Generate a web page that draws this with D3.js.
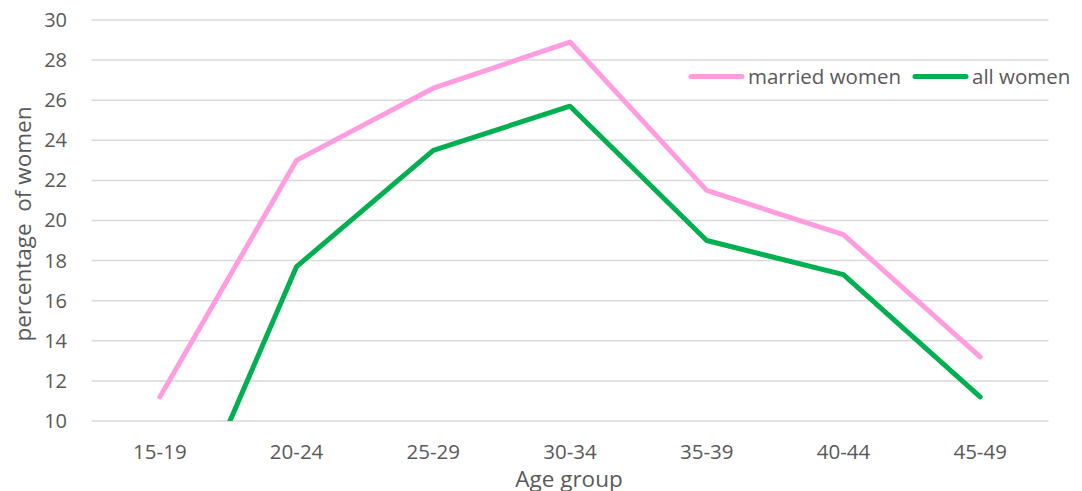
<!DOCTYPE html>
<html><head><meta charset="utf-8">
<script src="https://cdn.jsdelivr.net/npm/d3@7"></script>
<style>body{margin:0;background:#fff}svg{display:block}</style>
</head><body>
<svg id="c" width="1082" height="491"></svg>
<script>
const categories = ["15-19","20-24","25-29","30-34","35-39","40-44","45-49"];
const marriedWomen = [11.2, 23.0, 26.6, 28.9, 21.5, 19.3, 13.2];
const allWomen = [1.9, 17.7, 23.5, 25.7, 19.0, 17.3, 11.2];
const yTicks = [10,12,14,16,18,20,22,24,26,28,30];
const seriesNames = ["married women","all women"];
const colors = ["#FF9DDF","#00B050"];

const FONT = "'Open Sans', sans-serif";
const svg = d3.select("#c");
const L = 91.5, R = 1048.5, T = 20, B = 421;
const x = d3.scaleBand().domain(categories).range([L,R]).paddingInner(0).paddingOuter(0);
const y = d3.scaleLinear().domain([10,30]).range([B,T]);
const cx = d => x(d) + x.bandwidth()/2;

// grid
svg.append("g").selectAll("line").data(yTicks).join("line")
  .attr("x1",L).attr("x2",R).attr("y1",d=>y(d)).attr("y2",d=>y(d))
  .attr("stroke","#d9d9d9").attr("stroke-width",1.5);

// y axis labels
const yAxis = d3.axisLeft(y).tickValues(yTicks).tickSize(0).tickPadding(0);
const gy = svg.append("g").attr("transform",`translate(${67},0)`).call(yAxis);
gy.select(".domain").remove();
gy.selectAll("text").attr("font-family",FONT).attr("font-size",20).attr("fill","#595959");

// x axis labels
const xAxis = d3.axisBottom(x).tickSize(0).tickPadding(0);
const gx = svg.append("g").attr("transform",`translate(0,${452})`).call(xAxis);
gx.select(".domain").remove();
gx.selectAll("text").attr("font-family",FONT).attr("font-size",20.5).attr("fill","#595959").attr("dy","0.35em").attr("y",0);

// clip
svg.append("clipPath").attr("id","clip").append("rect").attr("x",L).attr("y",T-5).attr("width",R-L).attr("height",B-T+5);

const line = d3.line().x((d,i)=>cx(categories[i])).y(d=>y(d));
[marriedWomen, allWomen].forEach((s,k)=>{
  svg.append("path").datum(s).attr("d",line).attr("fill","none")
    .attr("stroke",colors[k]).attr("stroke-width",5).attr("stroke-linecap","round").attr("stroke-linejoin","round")
    .attr("clip-path","url(#clip)");
});

// axis titles
svg.append("text").attr("transform","translate(23,224) rotate(-90)").attr("text-anchor","middle")
  .attr("font-family",FONT).attr("font-size",22.5).attr("fill","#595959")
  .attr("dy","0.35em").attr("xml:space","preserve").text("percentage  of women");
svg.append("text").attr("x",569).attr("y",479).attr("text-anchor","middle")
  .attr("font-family",FONT).attr("font-size",22.5).attr("fill","#595959")
  .attr("dy","0.35em").text("Age group");

// legend
const leg = [{x:689, n:seriesNames[0], c:colors[0]},{x:913, n:seriesNames[1], c:colors[1]}];
leg.forEach(l=>{
  svg.append("line").attr("x1",l.x+2).attr("x2",l.x+53).attr("y1",76.5).attr("y2",76.5)
    .attr("stroke",l.c).attr("stroke-width",5).attr("stroke-linecap","round");
  svg.append("text").attr("x",l.x+59).attr("y",76.5).attr("dy","0.35em")
    .attr("font-family",FONT).attr("font-size",20.5).attr("fill","#595959").text(l.n);
});
</script>
</body></html>
